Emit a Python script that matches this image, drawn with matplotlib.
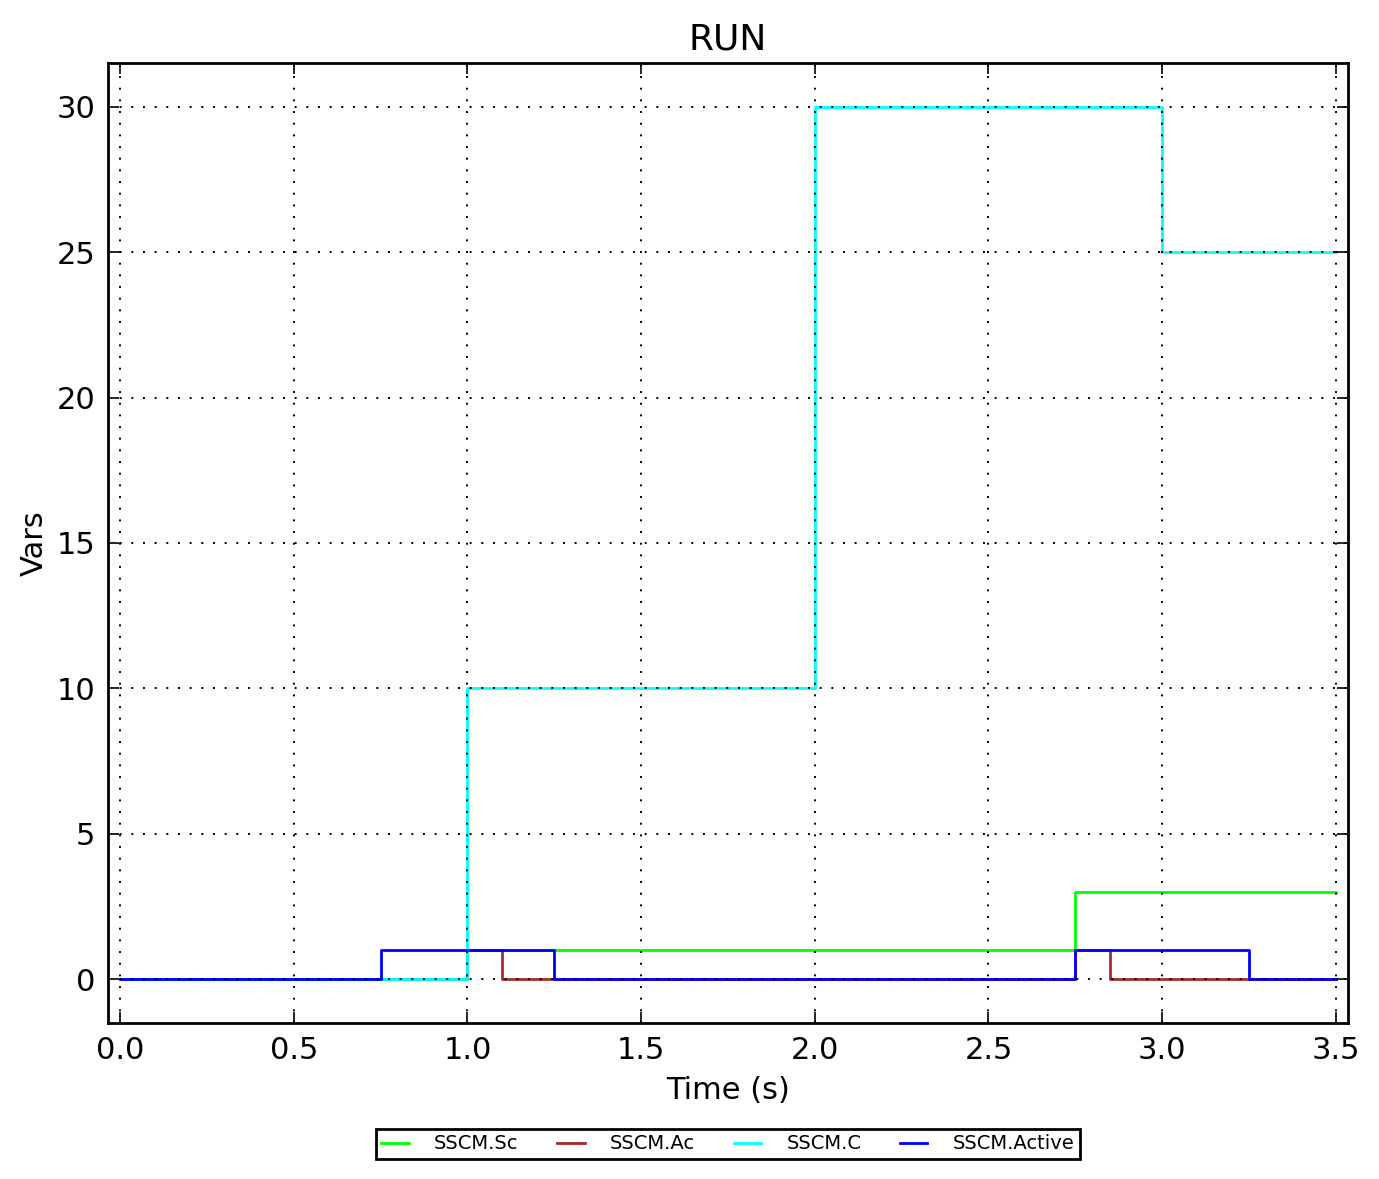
import numpy as np
import matplotlib
matplotlib.use("Agg")
from matplotlib import pyplot as plt

# step times (s) and values for each signal
t = [0.0, 0.75, 1.0, 1.1, 1.25, 2.0, 2.75, 2.85, 3.0, 3.25, 3.5]
sc = [0, 0, 1, 1, 1, 1, 3, 3, 3, 3, 3]
ac = [0, 0, 1, 0, 0, 0, 1, 0, 0, 0, 0]
c = [0, 0, 10, 10, 10, 30, 30, 30, 25, 25, 25]
active = [0, 1, 1, 1, 0, 0, 1, 1, 1, 0, 0]

names = ["SSCM.Sc", "SSCM.Ac", "SSCM.C", "SSCM.Active"]
colors = ["#00ff00", "#a52a2a", "#00ffff", "#0000ff"]

fig = plt.figure(figsize=(13.79, 11.79), dpi=100)
ax = fig.add_axes([0.0783, 0.1323, 0.8992, 0.8143])

for y, name, col in zip([sc, ac, c, active], names, colors):
    ax.step(t, y, where="post", color=col, lw=2.0, label=name)

ax.set_xlim(-0.035, 3.535)
ax.set_ylim(-1.5, 31.5)
ax.set_xticks(np.arange(0, 3.51, 0.5))
ax.set_yticks(np.arange(0, 31, 5))
ax.grid(True, color="black", linestyle=(0, (1, 5)), linewidth=1.4)
ax.set_axisbelow(False)

ax.tick_params(direction="in", top=True, right=True, length=8, width=1.2,
               labelsize=22, pad=9)
for s in ax.spines.values():
    s.set_linewidth(2.0)

ax.set_title("RUN", fontsize=26, pad=10)
ax.set_xlabel("Time (s)", fontsize=22, labelpad=8)
ax.set_ylabel("Vars", fontsize=22, labelpad=6)

leg = ax.legend(loc="upper center", bbox_to_anchor=(0.5, -0.110), ncol=4,
                fontsize=14, fancybox=False, framealpha=1, borderpad=0.3,
                handlelength=1.4, columnspacing=2.0, handletextpad=1.3,
                borderaxespad=0)
leg.get_frame().set_edgecolor("black")
leg.get_frame().set_linewidth(2.0)

fig.savefig("out.png", dpi=100)
